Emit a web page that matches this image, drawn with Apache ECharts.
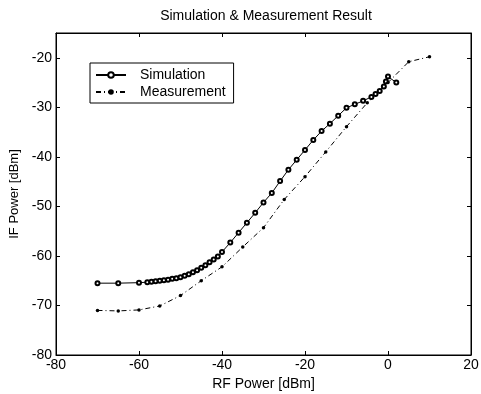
<!DOCTYPE html>
<html>
<head>
<meta charset="utf-8">
<script src="https://cdn.jsdelivr.net/npm/echarts@6/dist/echarts.min.js"></script>
<style>html,body{margin:0;padding:0;background:#fff}#c{width:481px;height:394px}</style>
</head>
<body>
<div id="c"></div>
<script>
const simX = [-70,-65,-60,-58,-57,-56,-55,-54,-53,-52,-51,-50,-49,-48,-47,-46,-45,-44,-43,-42,-41,-40,-38,-36,-34,-32,-30,-28,-26,-24,-22,-20,-18,-16,-14,-12,-10,-8,-6,-4,-3,-2,-1,-0.5,0,2];
const simY = [-65.5,-65.5,-65.4,-65.3,-65.2,-65.1,-65.0,-64.9,-64.8,-64.6,-64.5,-64.3,-64.0,-63.7,-63.3,-62.9,-62.4,-61.9,-61.3,-60.7,-60.1,-59.2,-57.3,-55.3,-53.3,-51.3,-49.2,-47.3,-44.9,-42.6,-40.6,-38.6,-36.6,-34.8,-33.3,-31.7,-30.1,-29.4,-28.7,-27.9,-27.3,-26.7,-25.8,-24.8,-23.8,-25.0];
const measX = [-70,-65,-60,-55,-50,-45,-40,-35,-30,-25,-20,-15,-10,-5,0,5,10];
const measY = [-71.0,-71.1,-70.9,-70.1,-68.0,-65.0,-62.2,-58.2,-54.3,-48.6,-44.0,-39.0,-33.9,-29.1,-25.0,-20.8,-19.8];
const xTicks = {min:-80, max:20, interval:20};
const yTicks = {min:-80, max:-15, interval:10};

const font = 'Liberation Sans';
const chart = echarts.init(document.getElementById('c'));
const zip = (a,b)=>a.map((v,i)=>[v,b[i]]);
const axisLine = {show:true, onZero:false, lineStyle:{color:'#000', width:1}};
const tick = {show:true, inside:true, length:4, lineStyle:{color:'#000'}};
chart.setOption({
  animation:false,
  backgroundColor:'#fff',
  title:{text:'Simulation & Measurement Result', left:261, textAlign:'center', top:4,
    textStyle:{fontFamily:font, fontSize:14, fontWeight:'normal', color:'#000'}},
  grid:{left:56, right:10, top:33, bottom:39, show:true, borderColor:'#000', borderWidth:1,
    backgroundColor:'#fff', containLabel:false, outerBoundsMode:'none'},
  legend:{orient:'vertical', left:90, top:63, itemWidth:30, itemHeight:7, itemGap:3,
    padding:[5,8,4,5], borderColor:'#000', borderWidth:1, backgroundColor:'#fff',
    textStyle:{fontFamily:font, fontSize:14, color:'#000', padding:[0,0,0,9]},
    data:['Simulation','Measurement']},
  xAxis:[
    {type:'value', min:xTicks.min, max:xTicks.max, interval:xTicks.interval, position:'bottom',
     name:'RF Power [dBm]', nameLocation:'middle', nameGap:22,
     nameTextStyle:{fontFamily:font, fontSize:14, color:'#000'},
     axisLine:axisLine, axisTick:tick, splitLine:{show:false},
     axisLabel:{fontFamily:font, fontSize:14, color:'#000', margin:3}},
    {type:'value', min:xTicks.min, max:xTicks.max, interval:xTicks.interval, position:'top',
     axisLine:axisLine, axisTick:tick, splitLine:{show:false}, axisLabel:{show:false}}
  ],
  yAxis:[
    {type:'value', min:yTicks.min, max:yTicks.max, interval:yTicks.interval, position:'left',
     name:'IF Power [dBm]', nameLocation:'middle', nameGap:33,
     nameTextStyle:{fontFamily:font, fontSize:13, color:'#000'},
     axisLine:axisLine, axisTick:tick, splitLine:{show:false},
     axisLabel:{fontFamily:font, fontSize:14, color:'#000', margin:4, showMaxLabel:false}},
    {type:'value', min:yTicks.min, max:yTicks.max, interval:yTicks.interval, position:'right',
     axisLine:axisLine, axisTick:tick, splitLine:{show:false}, axisLabel:{show:false}}
  ],
  series:[
    {name:'Simulation', type:'line', data:zip(simX,simY), xAxisIndex:0, yAxisIndex:0,
     symbol:'emptyCircle', symbolSize:4, showAllSymbol:true,
     lineStyle:{color:'#000', width:1}, itemStyle:{color:'#000', borderWidth:0.8}},
    {name:'Measurement', type:'line', data:zip(measX,measY), xAxisIndex:0, yAxisIndex:0,
     symbol:'circle', symbolSize:3.5, showAllSymbol:true,
     lineStyle:{color:'#000', width:1, type:[5,3,1,3]}, itemStyle:{color:'#000'}}
  ]
});
</script>
</body>
</html>
